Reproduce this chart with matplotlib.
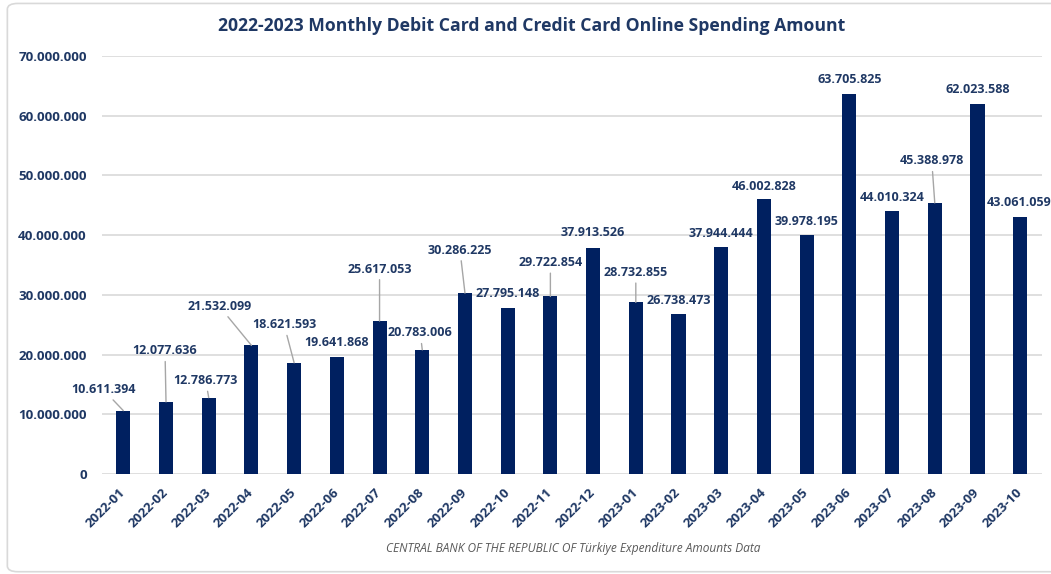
import matplotlib
matplotlib.use("Agg")
import matplotlib.pyplot as plt
from matplotlib.ticker import FuncFormatter
from matplotlib.patches import FancyBboxPatch

months = ["2022-01", "2022-02", "2022-03", "2022-04", "2022-05", "2022-06",
          "2022-07", "2022-08", "2022-09", "2022-10", "2022-11", "2022-12",
          "2023-01", "2023-02", "2023-03", "2023-04", "2023-05", "2023-06",
          "2023-07", "2023-08", "2023-09", "2023-10"]
amounts = [10611394, 12077636, 12786773, 21532099, 18621593, 19641868,
           25617053, 20783006, 30286225, 27795148, 29722854, 37913526,
           28732855, 26738473, 37944444, 46002828, 39978195, 63705825,
           44010324, 45388978, 62023588, 43061059]

# label placement (pixel offset of label centre from bar top), and leader line flag
label_dx = [-20, -1, -3, -32, -10, 0, 0, -2, -5, 0, 0, 0, 0, 0, 0, 0, 0, 0, 0, -3, 0, -1]
label_dy = [21, 51, 17, 39, 38, 14, 52, 17, 43, 14, 34, 15, 30, 14, 14, 13, 14, 14, 14, 42, 14, 14]
leader = [1, 1, 1, 1, 1, 0, 1, 1, 1, 0, 1, 0, 1, 0, 0, 0, 0, 0, 0, 1, 0, 0]

navy = "#002060"
text_navy = "#1F3864"

plt.rcParams["font.family"] = ["Open Sans", "DejaVu Sans"]

fig = plt.figure(figsize=(10.51, 5.74), dpi=100)
ax = fig.add_axes([0.097, 0.1742, 0.894, 0.7284])

x = range(len(months))
ax.bar(x, amounts, width=0.33, color=navy, zorder=3)

ax.set_xlim(-0.5, len(months) - 0.5)
ax.set_ylim(0, 70000000)
ax.set_yticks(range(0, 70000001, 10000000))
ax.yaxis.set_major_formatter(FuncFormatter(lambda v, p: f"{int(v):,}".replace(",", ".")))
ax.grid(axis="y", color="#D9D9D9", linewidth=1.2, zorder=0)
for s in ax.spines.values():
    s.set_visible(False)
ax.tick_params(axis="y", length=0, pad=11, labelsize=9.6, labelcolor=text_navy)
ax.tick_params(axis="x", length=0, pad=12, labelsize=9.5, labelcolor=text_navy)
for lab in ax.get_yticklabels():
    lab.set_fontweight("bold")
ax.set_xticks(list(x))
ax.set_xticklabels(months, rotation=45, ha="right", va="center",
                   rotation_mode="anchor", fontweight="bold")

for i, v in enumerate(amounts):
    label = f"{v:,}".replace(",", ".")
    props = None
    if leader[i]:
        props = dict(arrowstyle="-", color="#A6A6A6", lw=1, shrinkA=1, shrinkB=0)
    ax.annotate(label, xy=(i, v), xytext=(label_dx[i], label_dy[i]),
                textcoords="offset pixels", ha="center", va="center",
                fontsize=9.0, fontweight="bold", color=text_navy,
                arrowprops=props, annotation_clip=False, zorder=4)

fig.text(0.506, 0.955, "2022-2023 Monthly Debit Card and Credit Card Online Spending Amount",
         ha="center", va="center", fontsize=12.7, fontweight="bold", color=text_navy)
fig.text(0.545, 0.045, "CENTRAL BANK OF THE REPUBLIC OF Türkiye Expenditure Amounts Data",
         ha="center", va="center", fontsize=8.6, style="italic", color="#595959")

border = FancyBboxPatch((0.007, 0.004), 1.05, 0.99, boxstyle="round,pad=0,rounding_size=0.01",
                        transform=fig.transFigure, facecolor="none",
                        edgecolor="#D9D9D9", linewidth=1.2)
fig.patches.append(border)

fig.savefig("out.png", dpi=100)
